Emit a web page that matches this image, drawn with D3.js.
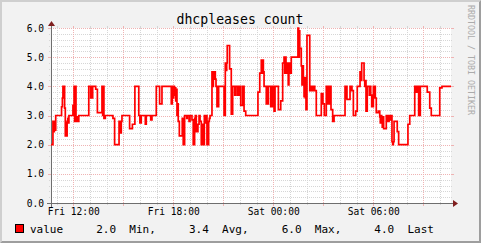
<!DOCTYPE html>
<html><head><meta charset="utf-8">
<script src="https://cdn.jsdelivr.net/npm/d3@7"></script>
<style>
body{margin:0;background:#fff}
svg{display:block}
text{font-family:"DejaVu Sans Mono",monospace}
</style>
</head><body>
<svg id="chart" width="481" height="243"></svg>
<script>
// ---------------- data ----------------
const chartTitle = "dhcpleases count";
const seriesName = "value";
const watermark = "RRDTOOL / TOBI OETIKER";
// minutes after Fri 10:40 at which the value changes, and the value from then on
const minutes = [0,7,10,12,14,17,38,41,43,49,51.5,54,56,58,60.5,62,64.5,79,83,85,87.5,90,95,97,100,
  136,143,145,147.5,150,161,167,183.5,186,188,190.5,195.5,223,229,245,251,253,255.5,283,293,302,316,320,325,
  339.5,343,359,363.5,379,391,399.5,433,436.5,439,441.5,444,446.5,449,451,453.5,456,458,462,472.5,476,481,
  488.5,490.5,497,500.5,507.5,512,517,519.5,523,529,533,536.5,541,544.5,548,552,554.5,558,561.5,567.5,570,
  572.5,579.5,582,584.5,587,589.5,591.5,594,597.5,603.5,623,627.5,630,632.5,634.5,643,649,654,661.5,664,
  670.5,673,677,679.5,683,690,695,701,745,751.5,757,759.5,762,764.5,767,775,777.5,780,782.5,791,794,796.5,
  799,803,806.5,818.5,827,834,839,841.5,843.5,846,851.5,854,856.5,859.5,865,889,891.5,894,895.5,901,903.5,
  906,908.5,911,913.5,915.5,918,921.5,931.5,937,939.5,942,944.5,947,949.5,955,973,979,984,991,993.5,996,
  998.5,1001,1003.5,1005.5,1008,1014,1019,1058.5,1061,1063,1065.5,1076.5,1079,1081,1083.5,1088.5,1097,
  1102.5,1112.5,1115,1118.5,1127,1129.5,1131.5,1134,1138.5,1146,1148.5,1151,1154.5,1160.5,1163,1165.5,
  1167.5,1171,1178.5,1183.5,1185.5,1188,1190.5,1192.5,1195,1197.5,1207,1209.5,1212,1214.5,1217,1219.5,1224,
  1227.5,1230,1232.5,1235,1246.5,1251.5,1285,1291.5,1309.5,1311.5,1314,1316.5,1318.5,1323.5,1329.5,1354.5,
  1363.5,1369,1399.5,1407.5,1440];
const counts = [2.0,2.8,2.45,2.8,2.5,3.0,3.3,3.6,4.0,3.25,2.3,2.75,2.3,2.8,2.9,2.75,3.0,3.35,4.0,2.8,4.0,2.8,2.95,2.8,3.0,
  4.0,3.6,4.0,3.6,4.0,3.9,3.1,4.0,3.0,4.0,2.9,3.0,2.9,2.0,2.8,2.4,2.8,3.0,2.55,2.7,4.0,3.0,2.75,3.0,
  2.7,3.0,2.85,3.0,4.0,3.4,4.0,3.4,4.0,3.6,4.0,3.7,3.95,3.5,3.9,3.0,3.4,2.8,2.3,2.9,2.0,3.0,
  2.9,3.0,2.8,3.0,2.85,2.0,2.9,3.0,2.45,2.7,3.0,2.8,2.0,2.7,2.0,3.0,2.75,3.0,2.0,2.8,2.9,
  3.0,4.5,4.0,4.5,4.25,4.5,4.25,4.0,3.3,4.0,3.0,4.8,4.55,4.8,5.4,4.6,3.05,4.0,3.7,4.0,
  3.7,4.0,3.7,4.0,3.35,4.0,3.15,3.0,3.8,4.45,4.9,4.45,4.9,4.5,4.0,3.4,4.0,3.4,4.0,3.3,4.0,3.3,
  4.0,3.15,4.0,3.2,3.5,4.8,5.0,4.45,5.0,4.45,4.8,4.05,4.8,4.45,5.0,6.0,5.0,5.9,5.3,4.7,4.05,
  4.7,4.2,3.65,4.3,3.6,3.2,5.75,3.85,4.0,3.85,4.0,3.85,4.0,3.85,3.0,3.75,3.4,3.0,4.0,3.4,4.0,
  3.4,4.0,3.4,4.0,3.2,2.8,3.0,4.0,3.6,4.0,3.55,4.0,3.85,4.0,3.85,3.0,3.15,
  4.0,4.5,4.2,4.8,4.2,4.0,4.2,3.15,4.0,3.7,4.0,3.7,3.3,4.0,3.6,4.0,
  3.6,3.1,3.15,2.95,2.75,3.0,2.8,2.6,2.95,2.55,3.0,2.8,3.0,2.8,3.0,2.85,3.0,
  2.1,2.0,2.1,2.8,2.45,2.0,2.7,3.0,4.0,3.8,4.0,3.8,4.0,3.0,4.0,3.8,
  3.25,3.0,3.95,4.0,4.0];
const yTickValues = [0,1,2,3,4,5,6];
const legendValues = ["2.0","3.4","6.0","4.0"];
const legendLabels = ["Min,","Avg,","Max,","Last"];
const startTime = new Date(2010,0,1,10,40);   // Fri 10:40
const endTime   = new Date(2010,0,2,10,40);   // Sat 10:40

// ---------------- layout ----------------
const W = 481, H = 243;
const X0 = 51, X1 = 451, Y0 = 203, Y1 = 28;
const col = {
  back:"#F2F2F2", canvas:"#FFFFFF", shadeA:"#CFCFCF", shadeB:"#9E9E9E",
  grid:"#D6D6D6", mgrid:"#EFB3B3", axis:"#6E6E6E", arrow:"#801F1F", font:"#000", line:"#FF0000"
};

const svg = d3.select("#chart");
const x = d3.scaleTime().domain([startTime, endTime]).range([X0, X1]);
const y = d3.scaleLinear().domain([0, 6]).range([Y0, Y1]);
const px = v => Math.round(v) + 0.5;

// background + 3d border
svg.append("rect").attr("width", W).attr("height", H).attr("fill", col.back);
svg.append("path").attr("fill", col.shadeA)
  .attr("d", `M0,${H}L2,${H-2}L2,2L${W-2},2L${W},0L0,0Z`);
svg.append("path").attr("fill", col.shadeB)
  .attr("d", `M2,${H-2}L${W-2},${H-2}L${W-2},2L${W},0L${W},${H}L0,${H}Z`);
svg.append("rect").attr("x", X0).attr("y", Y1).attr("width", X1 - X0).attr("height", Y0 - Y1).attr("fill", col.canvas);

const g = svg.append("g").attr("shape-rendering", "crispEdges");

// horizontal grid
const minorY = d3.range(0, 30).map(i => i * 0.2).filter(v => Math.abs(v - Math.round(v)) > 1e-6);
minorY.forEach(v => {
  const yy = px(y(v));
  g.append("line").attr("x1", X0 - 2).attr("x2", X1 + 2).attr("y1", yy).attr("y2", yy)
    .attr("stroke", col.grid).attr("stroke-dasharray", "1,1");
});
yTickValues.forEach(v => {
  const yy = px(y(v));
  g.append("line").attr("x1", X0 - 2).attr("x2", X1 + 2).attr("y1", yy).attr("y2", yy)
    .attr("stroke", col.mgrid).attr("stroke-dasharray", "1,1");
  g.append("line").attr("x1", X0 - 3).attr("x2", X0).attr("y1", yy).attr("y2", yy).attr("stroke", col.mgrid);
  g.append("line").attr("x1", X1).attr("x2", X1 + 3).attr("y1", yy).attr("y2", yy).attr("stroke", col.mgrid);
});

// vertical grid
const hours = d3.timeHour.range(d3.timeHour.ceil(startTime), endTime);
hours.forEach(t => {
  const xx = px(x(t));
  const major = t.getHours() % 3 === 0;
  const c = major ? col.mgrid : col.grid;
  g.append("line").attr("x1", xx).attr("x2", xx).attr("y1", Y1 - 2).attr("y2", Y0 + (major ? 3 : 2))
    .attr("stroke", c).attr("stroke-dasharray", "1,1");
  g.append("line").attr("x1", xx).attr("x2", xx).attr("y1", Y0).attr("y2", Y0 + (major ? 3 : 2)).attr("stroke", c);
  g.append("line").attr("x1", xx).attr("x2", xx).attr("y1", Y1 - 2).attr("y2", Y1).attr("stroke", c);
});

// data line
const pts = minutes.map((m, i) => [new Date(+startTime + m * 60000), counts[i]]);
const line = d3.line().x(d => x(d[0])).y(d => y(d[1])).curve(d3.curveStepAfter);
svg.append("path").datum(pts).attr("d", line)
  .attr("fill", "none").attr("stroke", col.line).attr("stroke-width", 1.7)
  .attr("stroke-linejoin", "miter");

// axes
g.append("line").attr("x1", X0 - 4).attr("x2", X1 + 4).attr("y1", Y0 + 0.5).attr("y2", Y0 + 0.5).attr("stroke", col.axis);
g.append("line").attr("x1", X0 + 0.5).attr("x2", X0 + 0.5).attr("y1", Y0 + 4).attr("y2", Y1 - 4).attr("stroke", col.axis);
svg.append("path").attr("fill", col.arrow)
  .attr("d", `M${X1+2},${Y0-3}L${X1+2},${Y0+4}L${X1+7},${Y0+0.5}Z`);
svg.append("path").attr("fill", col.arrow)
  .attr("d", `M${X0-3},${Y1-2}L${X0+4},${Y1-2}L${X0+0.5},${Y1-7}Z`);

// y labels
const fmtY = d3.format(".1f");
yTickValues.forEach(v => {
  svg.append("text").attr("x", 44).attr("y", y(v) + 3.6).attr("text-anchor", "end")
    .attr("font-size", "9.6px").attr("fill", col.font).text(fmtY(v));
});
// x labels
const fmtX = d3.timeFormat("%a %H:%M");
hours.filter(t => t.getHours() % 6 === 0).forEach(t => {
  svg.append("text").attr("x", x(t) + 0.5).attr("y", 215).attr("text-anchor", "middle")
    .attr("font-size", "9.6px").attr("fill", col.font).text(fmtX(t));
});

// title
svg.append("text").attr("x", 240).attr("y", 23.5).attr("text-anchor", "middle")
  .attr("font-size", "13.2px").attr("fill", col.font).text(chartTitle);

// watermark
svg.append("text").attr("transform", "translate(468,5) rotate(90)")
  .attr("font-size", "8.3px").attr("fill", "#ABABAB").text(watermark);

// legend
svg.append("rect").attr("x", 15.5).attr("y", 224.5).attr("width", 8).attr("height", 8)
  .attr("fill", col.line).attr("stroke", "#000").attr("shape-rendering", "crispEdges");
const legendText = seriesName + "     " + legendValues.map((v, i) => v + "  " + legendLabels[i]).join("     ");
svg.append("text").attr("x", 30).attr("y", 232.5).attr("font-size", "11px")
  .attr("fill", col.font).style("white-space", "pre").text(legendText);
</script>
</body></html>
